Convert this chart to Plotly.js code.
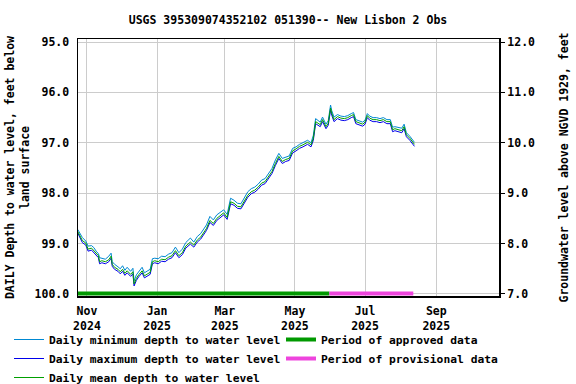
<!DOCTYPE html>
<html>
<head>
<meta charset="utf-8">
<script src="https://cdn.plot.ly/plotly-3.0.1.min.js"></script>
<style>html,body{margin:0;padding:0;background:#fff;}#chart{width:576px;height:384px;}</style>
</head>
<body>
<div id="chart"></div>
<script>
const dates = [
'2024-10-24','2024-10-26','2024-10-28','2024-10-31','2024-11-02','2024-11-05','2024-11-07','2024-11-09','2024-11-11','2024-11-12',
'2024-11-14','2024-11-17','2024-11-20','2024-11-22','2024-11-23','2024-11-25','2024-11-28','2024-11-30','2024-12-02','2024-12-04',
'2024-12-06','2024-12-09','2024-12-11','2024-12-12','2024-12-14','2024-12-16','2024-12-19','2024-12-21','2024-12-23','2024-12-26',
'2024-12-28','2024-12-30','2025-01-02','2025-01-05','2025-01-08','2025-01-11','2025-01-14','2025-01-17','2025-01-20','2025-01-23',
'2025-01-26','2025-01-30','2025-02-02','2025-02-05','2025-02-08','2025-02-10','2025-02-13','2025-02-16','2025-02-19','2025-02-22',
'2025-02-25','2025-02-28','2025-03-03','2025-03-06','2025-03-09','2025-03-12','2025-03-15','2025-03-18','2025-03-21','2025-03-24',
'2025-03-27','2025-03-30','2025-04-02','2025-04-05','2025-04-08','2025-04-11','2025-04-14','2025-04-17','2025-04-20','2025-04-23',
'2025-04-26','2025-04-29','2025-05-02','2025-05-05','2025-05-08','2025-05-12','2025-05-15','2025-05-17','2025-05-19','2025-05-21',
'2025-05-23','2025-05-25','2025-05-28','2025-05-30','2025-06-01','2025-06-02','2025-06-04','2025-06-07','2025-06-10','2025-06-13',
'2025-06-16','2025-06-19','2025-06-21','2025-06-23','2025-06-26','2025-06-29','2025-07-01','2025-07-03','2025-07-05','2025-07-08',
'2025-07-11','2025-07-14','2025-07-17','2025-07-20','2025-07-23','2025-07-25','2025-07-27','2025-07-30','2025-08-02','2025-08-04',
'2025-08-06','2025-08-09','2025-08-12','2025-08-13'
];
const meanDepth = [
98.76,98.84,98.94,98.99,99.11,99.09,99.14,99.21,99.24,99.36,
99.34,99.36,99.32,99.25,99.41,99.47,99.51,99.56,99.51,99.59,
99.54,99.61,99.56,99.80,99.69,99.62,99.54,99.64,99.61,99.57,
99.36,99.34,99.36,99.31,99.32,99.27,99.24,99.14,99.24,99.18,
99.05,98.97,99.03,98.93,98.87,98.80,98.70,98.54,98.60,98.50,
98.44,98.39,98.48,98.17,98.20,98.26,98.27,98.15,98.04,97.97,
97.94,97.88,97.80,97.77,97.67,97.57,97.41,97.27,97.37,97.33,
97.31,97.16,97.12,97.07,97.04,96.99,97.04,96.91,96.58,96.61,
96.64,96.54,96.68,96.61,96.31,96.41,96.54,96.48,96.51,96.52,
96.50,96.46,96.44,96.58,96.61,96.63,96.59,96.46,96.51,96.54,
96.54,96.56,96.54,96.58,96.58,96.74,96.72,96.74,96.76,96.68,
96.84,96.91,97.01,97.03
];
const minDepth = [
98.72,98.79,98.88,98.95,99.05,99.04,99.08,99.15,99.20,99.28,
99.29,99.31,99.25,99.19,99.36,99.41,99.46,99.50,99.44,99.53,
99.47,99.55,99.49,99.74,99.62,99.55,99.47,99.58,99.55,99.51,
99.30,99.29,99.30,99.25,99.26,99.21,99.18,99.07,99.18,99.11,
98.98,98.89,98.97,98.86,98.80,98.73,98.63,98.46,98.53,98.43,
98.38,98.33,98.42,98.10,98.14,98.20,98.21,98.09,97.97,97.91,
97.88,97.82,97.74,97.71,97.61,97.51,97.34,97.21,97.31,97.28,
97.26,97.11,97.08,97.03,97.00,96.95,97.00,96.85,96.52,96.56,
96.59,96.49,96.63,96.56,96.25,96.36,96.49,96.44,96.47,96.48,
96.46,96.42,96.40,96.54,96.57,96.59,96.55,96.42,96.47,96.50,
96.50,96.52,96.50,96.54,96.54,96.69,96.68,96.70,96.71,96.63,
96.80,96.87,96.97,96.99
];
const maxDepth = [
98.79,98.88,98.98,99.03,99.15,99.13,99.18,99.25,99.28,99.40,
99.38,99.40,99.36,99.29,99.45,99.51,99.55,99.60,99.55,99.63,
99.58,99.65,99.60,99.84,99.73,99.66,99.58,99.68,99.65,99.61,
99.40,99.38,99.40,99.35,99.36,99.31,99.28,99.18,99.28,99.22,
99.09,99.01,99.07,98.97,98.91,98.84,98.74,98.58,98.64,98.54,
98.48,98.43,98.52,98.21,98.24,98.30,98.31,98.19,98.08,98.01,
97.98,97.92,97.84,97.81,97.71,97.61,97.45,97.31,97.41,97.37,
97.35,97.20,97.16,97.11,97.08,97.03,97.08,96.95,96.62,96.65,
96.68,96.58,96.72,96.65,96.35,96.45,96.58,96.52,96.55,96.56,
96.54,96.50,96.48,96.62,96.65,96.67,96.63,96.50,96.55,96.58,
96.58,96.60,96.58,96.62,96.62,96.78,96.76,96.78,96.80,96.72,
96.88,96.95,97.05,97.07
];
const approvedPeriod = ['2024-10-24','2025-05-31'];
const provisionalPeriod = ['2025-05-31','2025-08-12'];
const periodDepth = [99.99, 99.99];
const xTickVals = ['2024-11-01','2025-01-01','2025-03-01','2025-05-01','2025-07-01','2025-09-01'];
const xTickText = ['Nov<br>2024','Jan<br>2025','Mar<br>2025','May<br>2025','Jul<br>2025','Sep<br>2025'];
const depthTicks = [95, 96, 97, 98, 99, 100];
const levelTicks = [7, 8, 9, 10, 11, 12];
const datumOffset = 107; // level = datumOffset - depth
const depthRange = [100.04, 94.94];

const FONT = 'DejaVu Sans Mono, monospace';
const baseFont = {family: FONT, size: 11.5, color: '#000', weight: 'bold'};

const traces = [
  {x: dates, y: minDepth, type: 'scatter', mode: 'lines', name: 'Daily minimum depth to water level',
   line: {color: 'rgb(0,136,210)', width: 1}, legend: 'legend'},
  {x: dates, y: maxDepth, type: 'scatter', mode: 'lines', name: 'Daily maximum depth to water level',
   line: {color: 'rgb(0,0,235)', width: 1}, legend: 'legend'},
  {x: dates, y: meanDepth, type: 'scatter', mode: 'lines', name: 'Daily mean depth to water level',
   line: {color: 'rgb(0,160,0)', width: 1}, legend: 'legend'},
  {x: approvedPeriod, y: periodDepth, type: 'scatter', mode: 'lines', name: 'Period of approved data',
   line: {color: 'rgb(0,153,0)', width: 4}, legend: 'legend2'},
  {x: provisionalPeriod, y: periodDepth, type: 'scatter', mode: 'lines', name: 'Period of provisional data',
   line: {color: 'rgb(238,68,221)', width: 4}, legend: 'legend2'},
  {x: [], y: [], yaxis: 'y2', type: 'scatter', mode: 'lines', showlegend: false, hoverinfo: 'skip'}
];

const legendCommon = {
  orientation: 'h', xref: 'container', yref: 'container', xanchor: 'left',
  y: 1 - 325/384, yanchor: 'top', traceorder: 'normal',
  font: Object.assign({}, baseFont, {size: 11.3}), bgcolor: 'rgba(0,0,0,0)', itemwidth: 30
};

const layout = {
  width: 576, height: 384,
  margin: {l: 78, r: 77, t: 39, b: 88},
  paper_bgcolor: '#fff', plot_bgcolor: '#fff',
  font: baseFont,
  showlegend: true,
  title: {text: 'USGS 395309074352102 051390-- New Lisbon 2 Obs', font: baseFont,
          xref: 'container', x: 0.5, xanchor: 'center', yref: 'container', y: 1 - 20/384, yanchor: 'middle'},
  xaxis: {
    type: 'date', range: ['2024-10-24 05:00', '2025-10-25 14:00'],
    tickmode: 'array', tickvals: xTickVals, ticktext: xTickText,
    ticks: 'outside', ticklen: 4, tickcolor: 'rgba(0,0,0,0)',
    showgrid: true, gridcolor: '#cccccc', gridwidth: 1,
    showline: true, linecolor: '#000', linewidth: 1.5, mirror: true,
    zeroline: false, tickfont: baseFont
  },
  yaxis: {
    range: depthRange, tickmode: 'array', tickvals: depthTicks,
    tickformat: '.1f',
    ticks: 'outside', ticklen: 5, tickcolor: 'rgba(0,0,0,0)',
    showgrid: true, gridcolor: '#cccccc', gridwidth: 1,
    showline: true, linecolor: '#000', linewidth: 1.5, mirror: true,
    zeroline: false, tickfont: baseFont,
    title: {text: 'DAILY Depth to water level, feet below<br>land surface', font: baseFont, standoff: 2}
  },
  yaxis2: {
    overlaying: 'y', side: 'right', anchor: 'x',
    range: depthRange.map(d => datumOffset - d), tickmode: 'array', tickvals: levelTicks,
    tickformat: '.1f',
    ticks: 'outside', ticklen: 5, tickcolor: '#000',
    showgrid: false, zeroline: false, showline: false, tickfont: baseFont,
    title: {text: 'Groundwater level above NGVD 1929, feet', font: baseFont, standoff: 25}
  },
  legend: Object.assign({}, legendCommon, {x: 9/576}),
  legend2: Object.assign({}, legendCommon, {x: 281/576, entrywidth: 230, entrywidthmode: 'pixels'})
};

Plotly.newPlot('chart', traces, layout, {staticPlot: true, displayModeBar: false});
</script>
</body>
</html>
